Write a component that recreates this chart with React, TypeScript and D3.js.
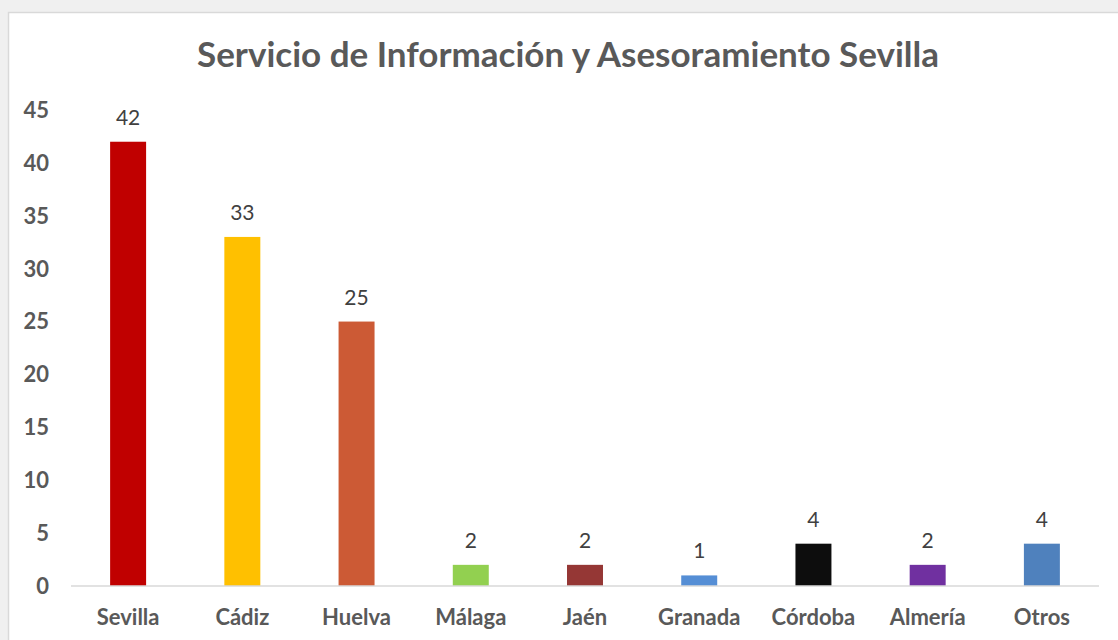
import React from "react";
import * as d3 from "d3";

const categories = ["Sevilla", "Cádiz", "Huelva", "Málaga", "Jaén", "Granada", "Córdoba", "Almería", "Otros"];
const values = [42, 33, 25, 2, 2, 1, 4, 2, 4];
const barColors = ["#C00000", "#FFC000", "#CC5A35", "#92D050", "#953735", "#558ED5", "#0D0D0D", "#7030A0", "#4F81BD"];
const yTicks = [0, 5, 10, 15, 20, 25, 30, 35, 40, 45];
const title = "Servicio de Información y Asesoramiento Sevilla";

const W = 1118;
const H = 640;
const FONT = "Lato, 'Open Sans', sans-serif";

export default function App() {
  const x = d3.scaleBand<string>().domain(categories).range([71, 1099]).paddingInner(0.685).paddingOuter(0.3425);
  const y = d3.scaleLinear().domain([0, 45]).range([586, 110]);

  return (
    <div style={{ position: "fixed", left: 0, top: 0 }}>
      <svg width={W} height={H} style={{ display: "block" }}>
        <rect x={0} y={0} width={W} height={H} fill="#f0f0f0" />
        <rect x={8.5} y={12.5} width={W} height={H} fill="#ffffff" stroke="#d9d9d9" strokeWidth={1.5} />
        <text x={568} y={67} textAnchor="middle" fontFamily={FONT} fontWeight={700} fontSize={35} fill="#595959">
          {title}
        </text>
        {yTicks.map((t) => (
          <text key={t} x={49} y={y(t)} dy="0.36em" textAnchor="end" fontFamily={FONT} fontWeight={700} fontSize={22} fill="#595959">
            {t}
          </text>
        ))}
        {categories.map((c, i) => (
          <g key={c}>
            <rect x={x(c)} y={y(values[i])} width={x.bandwidth()} height={y(0) - y(values[i])} fill={barColors[i]} />
            <text x={(x(c) as number) + x.bandwidth() / 2} y={y(values[i]) - 17} textAnchor="middle" fontFamily={FONT} fontSize={21} fill="#404040">
              {values[i]}
            </text>
            <text x={(x(c) as number) + x.bandwidth() / 2} y={625} textAnchor="middle" fontFamily={FONT} fontWeight={700} fontSize={22} fill="#595959">
              {c}
            </text>
          </g>
        ))}
        <line x1={71} x2={1099} y1={586} y2={586} stroke="#d9d9d9" strokeWidth={1.5} />
      </svg>
    </div>
  );
}
